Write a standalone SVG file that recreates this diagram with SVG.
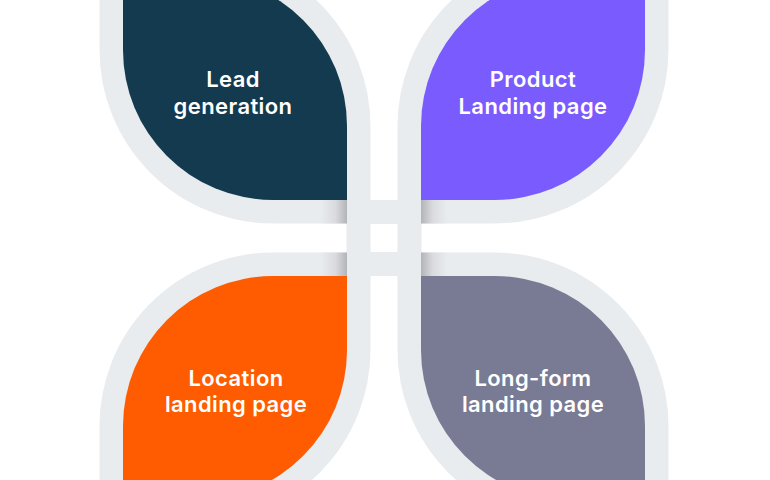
<svg xmlns="http://www.w3.org/2000/svg" width="770" height="480" viewBox="0 0 770 480">
  <defs>
    <linearGradient id="shL" x1="0" y1="0" x2="1" y2="0">
      <stop offset="0" stop-color="#e9ecef"/>
      <stop offset="0.55" stop-color="#d9dbde"/>
      <stop offset="1" stop-color="#b2b4b7"/>
    </linearGradient>
    <linearGradient id="shR" x1="1" y1="0" x2="0" y2="0">
      <stop offset="0" stop-color="#e9ecef"/>
      <stop offset="0.55" stop-color="#d9dbde"/>
      <stop offset="1" stop-color="#b2b4b7"/>
    </linearGradient>
  </defs>
  <style>
    .ring { fill: none; stroke: #e9ecef; stroke-width: 47; stroke-linejoin: miter; }
    .bar { fill: #e9ecef; }
    .lbl { font-family: "Inter", "Noto Sans", "Liberation Sans", sans-serif; font-weight: 600; font-size: 22px; letter-spacing: 0.4px; fill: #ffffff; text-anchor: middle; }
  </style>
  <rect width="770" height="480" fill="#ffffff"/>

  <g id="frame">
    <path class="ring" d="M123,-24 H197 A150,150 0 0 1 347,126 V200 H273 A150,150 0 0 1 123,50 Z"/>
    <path class="ring" d="M645,-24 H571 A150,150 0 0 0 421,126 V200 H495 A150,150 0 0 0 645,50 Z"/>
    <path class="ring" d="M123,500 H197 A150,150 0 0 0 347,350 V276 H273 A150,150 0 0 0 123,426 Z"/>
    <path class="ring" d="M645,500 H571 A150,150 0 0 1 421,350 V276 H495 A150,150 0 0 1 645,426 Z"/>
  </g>

  <g id="connectors">
    <rect class="bar" x="346" y="200" width="76" height="24"/>
    <rect class="bar" x="346" y="252" width="76" height="24"/>
    <rect class="bar" x="346.5" y="222" width="24" height="32"/>
    <rect class="bar" x="397.5" y="222" width="24" height="32"/>
    <rect x="321" y="200" width="26" height="23.5" fill="url(#shL)"/>
    <rect x="321" y="252.5" width="26" height="23.5" fill="url(#shL)"/>
    <rect x="421" y="200" width="26" height="23.5" fill="url(#shR)"/>
    <rect x="421" y="252.5" width="26" height="23.5" fill="url(#shR)"/>
  </g>

  <g id="lead-generation">
    <path fill="#143a4f" d="M123,-24 H197 A150,150 0 0 1 347,126 V200 H273 A150,150 0 0 1 123,50 Z"/>
    <text class="lbl" x="233" y="87">Lead</text>
    <text class="lbl" x="233" y="114">generation</text>
  </g>

  <g id="product-landing-page">
    <path fill="#7a5bfe" d="M645,-24 H571 A150,150 0 0 0 421,126 V200 H495 A150,150 0 0 0 645,50 Z"/>
    <text class="lbl" x="533" y="87">Product</text>
    <text class="lbl" x="533" y="114">Landing page</text>
  </g>

  <g id="location-landing-page">
    <path fill="#ff5b00" d="M123,500 H197 A150,150 0 0 0 347,350 V276 H273 A150,150 0 0 0 123,426 Z"/>
    <text class="lbl" x="236" y="386">Location</text>
    <text class="lbl" x="236" y="412">landing page</text>
  </g>

  <g id="long-form-landing-page">
    <path fill="#797a93" d="M645,500 H571 A150,150 0 0 1 421,350 V276 H495 A150,150 0 0 1 645,426 Z"/>
    <text class="lbl" x="533" y="386">Long-form</text>
    <text class="lbl" x="533" y="412">landing page</text>
  </g>
</svg>
